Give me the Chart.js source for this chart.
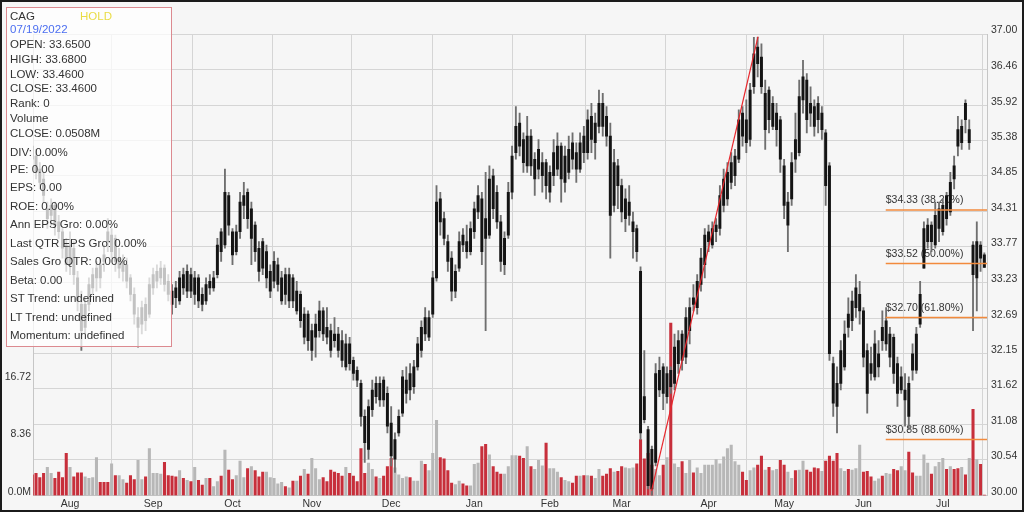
<!DOCTYPE html>
<html lang="en">
<head>
<meta charset="UTF-8">
<title>CAG</title>
<script src="https://cdn.jsdelivr.net/npm/chart.js"></script>
<style>
  html, body { margin: 0; padding: 0; background: #fff; }
  #frame { position: relative; width: 1024px; height: 512px; box-sizing: border-box; border: 2px solid #1b1b1b; background: #f6f6f6; overflow: hidden; font-family: "Liberation Sans", Arial, Helvetica, sans-serif; }
  #chart { position: absolute; left: 0; top: 0; }
  #info { position: absolute; left: 4px; top: 5px; width: 164px; height: 338px; border: 1px solid #dc8a90; background: rgba(255,255,255,0.74); font-size: 11.5px; color: #333; }
  #info div { position: absolute; left: 3px; white-space: nowrap; line-height: 14px; }
</style>
</head>
<body>
<div id="frame">
  <canvas id="chart" width="1020" height="508"></canvas>
  <div id="info">
    <div style="top:1px">CAG</div>
    <div style="top:1px;left:73px;color:#e9dc45">HOLD</div>
    <div style="top:14px;color:#4b6ef0">07/19/2022</div>
    <div style="top:29px">OPEN: 33.6500</div>
    <div style="top:44px">HIGH: 33.6800</div>
    <div style="top:59px">LOW: 33.4600</div>
    <div style="top:73px">CLOSE: 33.4600</div>
    <div style="top:88px">Rank: 0</div>
    <div style="top:103px">Volume</div>
    <div style="top:118px">CLOSE: 0.0508M</div>
    <div style="top:137px">DIV: 0.00%</div>
    <div style="top:154px">PE: 0.00</div>
    <div style="top:172px">EPS: 0.00</div>
    <div style="top:191px">ROE: 0.00%</div>
    <div style="top:209px">Ann EPS Gro: 0.00%</div>
    <div style="top:228px">Last QTR EPS Gro: 0.00%</div>
    <div style="top:246px">Sales Gro QTR: 0.00%</div>
    <div style="top:265px">Beta: 0.00</div>
    <div style="top:283px">ST Trend: undefined</div>
    <div style="top:302px">LT Trend: undefined</div>
    <div style="top:320px">Momentum: undefined</div>
  </div>
</div>

<script>
// --- daily candles [open, high, low, close], one array per month ---
const jul21 = [
  [35.30,35.50,34.95,35.10],[35.15,35.25,34.80,34.90],[34.95,35.05,34.65,34.75],[34.80,34.90,34.45,34.55],[34.20,34.45,34.05,34.35],
  [34.25,34.50,34.10,34.40],[34.40,34.45,33.95,34.10],[34.15,34.25,33.90,34.00],[34.00,34.05,33.60,33.75],[33.80,33.90,33.40,33.50]
];
const aug21 = [
  [33.50,34.00,33.35,33.80],[33.75,33.85,33.20,33.35],[33.30,33.40,32.80,32.95],[32.90,33.10,32.20,32.50],[32.55,33.00,32.45,32.90],
  [32.90,33.30,32.80,33.20],[33.15,33.45,33.05,33.35],[33.30,33.55,33.10,33.45],[33.50,33.60,33.15,33.30],[33.65,33.80,33.40,33.55],
  [34.00,34.20,33.70,33.85],[33.70,34.05,33.60,33.95],[33.90,33.95,33.40,33.55],[33.45,33.75,33.30,33.60],[33.40,33.65,33.25,33.55],
  [33.50,33.60,33.15,33.25],[33.30,33.35,32.95,33.05],[33.05,33.15,32.60,32.75],[32.55,32.85,32.25,32.70],[32.60,32.95,32.45,32.85],
  [32.90,33.00,32.50,32.65],[32.75,33.30,32.70,33.20]
];
const sep21 = [
  [33.15,33.45,33.05,33.35],[33.25,33.50,33.15,33.40],[33.30,33.55,33.20,33.45],[33.45,33.50,33.10,33.20],[33.25,33.35,32.95,33.05],
  [33.10,33.20,32.75,32.90],[33.15,33.25,32.85,33.00],[32.95,33.40,32.90,33.30],[33.35,33.45,33.05,33.15],[33.10,33.50,33.00,33.40],
  [33.35,33.45,33.00,33.10],[33.05,33.40,32.90,33.30],[33.30,33.35,32.85,32.95],[33.05,33.15,32.80,32.90],[32.95,33.30,32.90,33.20],
  [33.25,33.35,33.05,33.15],[33.15,33.40,33.10,33.30],[33.35,33.90,33.30,33.80],[34.00,34.05,33.55,33.70],[33.80,34.95,33.75,34.60],
  [34.55,34.60,33.95,34.10]
];
const oct21 = [
  [34.00,34.05,33.50,33.65],[33.70,34.10,33.65,34.00],[34.00,34.60,33.90,34.45],[34.40,34.75,34.20,34.55],[34.60,34.65,34.05,34.20],
  [33.90,34.45,33.50,34.35],[34.10,34.15,33.55,33.70],[33.75,33.85,33.25,33.40],[33.85,33.90,33.35,33.45],[33.30,33.80,33.15,33.70],
  [33.10,33.50,33.00,33.40],[33.25,33.70,33.15,33.55],[33.20,33.60,33.10,33.50],[32.95,33.40,32.90,33.30],[33.35,33.45,32.90,33.05],
  [32.95,33.45,32.85,33.35],[33.30,33.35,32.85,32.95],[32.80,33.25,32.75,33.10],[33.05,33.10,32.55,32.65],[32.40,32.85,32.30,32.75],
  [32.75,32.80,32.20,32.35]
];
const nov21 = [
  [32.20,32.60,32.05,32.50],[32.40,32.75,32.10,32.60],[32.50,32.95,32.40,32.80],[32.80,32.85,32.35,32.45],[32.55,32.85,32.30,32.40],
  [32.50,32.60,32.10,32.20],[32.45,32.70,32.25,32.35],[32.45,32.55,32.10,32.20],[32.35,32.50,31.95,32.05],[31.95,32.45,31.90,32.30],
  [32.30,32.40,31.90,32.00],[32.05,32.10,31.75,31.85],[31.90,31.95,31.65,31.75],[31.70,31.75,31.05,31.20],[31.20,31.30,30.50,30.80],
  [30.70,31.45,30.55,31.35],[31.30,31.75,31.20,31.60],[31.70,31.80,31.40,31.50],[31.45,31.80,31.35,31.70],[31.75,31.80,31.35,31.45],
  [31.55,31.65,30.95,31.05]
];
const dec21 = [
  [31.10,31.35,30.45,30.60],[30.55,30.95,30.35,30.85],[30.95,31.30,30.90,31.20],[31.25,31.90,31.20,31.80],[31.55,31.95,31.40,31.75],
  [31.85,32.00,31.45,31.60],[31.65,32.05,31.55,31.95],[31.95,32.40,31.90,32.30],[32.20,32.65,32.10,32.55],[32.70,32.85,32.35,32.45],
  [32.40,32.80,32.35,32.70],[32.75,33.40,32.70,33.30],[33.30,34.70,33.25,34.45],[34.50,34.60,33.95,34.15],[34.20,34.30,33.80,33.90],
  [33.85,33.95,33.40,33.55],[33.60,33.70,32.95,33.10],[33.10,33.50,33.00,33.40],[33.45,34.00,33.40,33.85],[33.95,34.05,33.70,33.80],
  [33.85,34.10,33.60,33.70],[33.70,34.15,33.65,34.05]
];
const jan22 = [
  [34.00,34.45,33.90,34.35],[34.30,34.70,34.20,34.55],[34.50,34.60,33.50,33.70],[34.20,34.90,32.50,33.90],[33.95,35.00,33.90,34.80],
  [34.85,34.95,34.20,34.35],[34.60,34.70,34.05,34.15],[34.15,34.25,33.40,33.55],[33.50,34.00,33.35,33.90],[33.95,34.75,33.90,34.60],
  [34.60,35.30,34.50,35.15],[35.20,35.90,35.10,35.60],[35.65,35.80,35.15,35.30],[35.40,35.50,34.90,35.05],[35.00,35.75,34.90,35.45],
  [35.45,35.55,34.85,35.00],[34.80,35.20,34.55,35.10],[34.95,35.40,34.80,35.25],[34.85,35.20,34.60,35.05],[35.05,35.10,34.50,34.70]
];
const feb22 = [
  [34.60,35.00,34.45,34.90],[34.85,35.40,34.70,35.20],[34.95,35.50,34.85,35.30],[35.30,35.35,34.45,34.80],[34.75,35.30,34.60,35.15],
  [34.90,35.45,34.80,35.25],[35.35,35.50,34.95,35.10],[35.20,35.35,34.75,34.95],[34.95,35.50,34.90,35.35],[35.45,35.60,35.05,35.20],
  [35.20,35.85,35.10,35.70],[35.75,35.95,35.20,35.40],[35.35,35.80,35.10,35.65],[35.60,36.15,35.50,35.95],[35.95,36.10,35.45,35.60],
  [35.75,35.90,35.30,35.45],[35.45,35.65,33.60,34.25],[34.40,35.25,34.30,35.05],[35.00,35.10,34.35,34.70]
];
const mar22 = [
  [34.70,34.80,34.15,34.30],[34.20,34.65,34.00,34.50],[34.25,34.70,34.10,34.45],[34.00,34.30,33.60,34.15],[34.05,34.10,33.55,33.70],
  [33.40,33.47,30.85,30.95],[31.50,32.20,31.10,31.15],[31.00,31.05,30.10,30.15],[30.70,30.75,30.00,30.10],[30.50,32.00,30.45,31.85],
  [31.60,32.10,31.50,31.90],[31.95,32.00,31.30,31.55],[31.50,31.95,31.40,31.85],[31.90,31.95,31.55,31.65],[31.70,32.45,31.60,32.25],
  [32.00,32.50,31.85,32.35],[32.45,32.50,31.90,32.05],[32.10,32.85,32.00,32.70],[32.50,33.00,32.30,32.85],[33.00,33.20,32.80,32.90],
  [32.85,33.35,32.75,33.25],[33.20,33.75,33.10,33.60],[33.50,34.05,33.30,33.95]
];
const apr22 = [
  [33.85,34.10,33.70,34.00],[33.80,34.15,33.75,34.05],[34.00,34.20,33.85,34.10],[34.05,34.70,33.95,34.55],[34.40,34.95,34.30,34.80],
  [34.50,35.05,34.40,34.90],[34.75,35.20,34.65,35.05],[34.85,35.25,34.70,35.15],[35.10,35.85,35.05,35.70],[35.80,35.90,35.30,35.45],
  [35.70,36.00,35.20,35.35],[35.40,36.25,35.30,36.15],[36.20,36.95,36.10,36.70],[36.80,36.95,36.35,36.55],[36.65,36.85,36.10,36.20],
  [35.55,36.30,35.25,36.10],[36.15,36.20,35.50,35.70],[35.60,36.05,35.55,35.95],[35.55,35.95,35.30,35.80],[35.70,35.75,34.90,35.10]
];
const may22 = [
  [35.00,35.10,34.20,34.40],[34.10,34.60,33.70,34.45],[34.50,35.20,34.40,35.05],[35.40,35.80,34.90,35.10],[35.20,36.30,35.15,36.05],
  [36.00,36.60,35.80,36.35],[36.30,36.40,35.50,35.70],[35.95,36.20,35.60,35.80],[35.90,36.00,35.45,35.60],[35.95,36.05,35.50,35.70],
  [35.55,35.90,35.40,35.80],[35.50,35.55,34.40,34.70],[35.00,35.05,32.05,32.15],[32.00,32.10,31.20,31.40],[31.70,31.95,30.95,31.35],
  [31.70,32.35,31.60,32.20],[31.95,32.65,31.90,32.45],[32.75,33.00,32.40,32.55],[32.65,33.10,32.50,32.95],[32.85,33.35,32.70,33.15],
  [32.80,33.25,32.60,33.05]
];
const jun22 = [
  [32.80,32.85,31.95,32.10],[32.20,32.30,31.25,31.55],[32.00,32.25,31.75,31.85],[31.80,32.50,31.75,32.30],[31.95,32.35,31.80,32.15],
  [32.55,32.80,32.20,32.35],[32.30,32.85,32.20,32.65],[32.10,32.55,31.95,32.45],[32.40,32.45,31.70,31.85],[32.00,32.10,31.35,31.55],
  [31.60,31.95,31.55,31.80],[31.45,31.85,31.05,31.60],[31.70,31.80,31.00,31.20],[32.15,32.30,31.75,31.90],[31.90,32.55,31.85,32.45],
  [32.60,33.25,32.55,33.05],[33.45,34.15,33.45,34.05],[33.85,34.20,33.75,34.10],[34.10,34.15,33.70,33.85],[33.80,34.45,33.75,34.25],
  [34.05,34.45,33.85,34.35]
];
const jul22 = [
  [34.00,34.50,33.95,34.40],[34.55,34.60,34.10,34.20],[34.30,34.90,34.25,34.75],[35.00,35.15,34.65,34.80],[35.55,35.75,35.15,35.30],
  [35.35,35.70,35.25,35.60],[35.95,36.00,35.50,35.70],[35.35,35.70,35.25,35.55],[33.80,33.85,32.50,33.35],[33.30,34.15,32.80,33.85],
  [33.80,33.85,33.40,33.60],[33.65,33.68,33.46,33.46]
];

// --- daily volume in millions, same months ---
const volJul21 = [3.0,3.2,2.6,3.2,4.1,3.2,2.5,3.4,2.6,6.1];
const volAug21 = [4.1,2.7,3.3,3.3,2.7,2.5,2.6,5.5,1.9,1.9,1.9,4.6,2.9,2.9,2.3,1.8,2.9,2.3,5.1,2.3,2.7,6.8];
const volSep21 = [3.2,3.2,3.1,4.8,2.9,2.8,2.7,3.6,2.5,2.2,2.0,4.1,2.2,1.5,2.5,2.5,1.3,2.0,2.8,6.6,3.7];
const volOct21 = [2.3,2.9,5.0,2.6,3.9,4.2,3.6,2.7,3.4,3.4,2.6,2.5,1.7,1.9,1.3,1.1,2.1,2.1,2.8,3.8,3.1];
const volNov21 = [5.4,3.9,2.3,2.6,2.0,3.7,3.4,3.2,2.8,4.1,3.2,2.8,2.0,6.8,3.2,4.7,3.8,2.7,2.5,2.8,4.2];
const volDec21 = [5.4,4.0,3.0,2.5,2.7,2.6,2.1,2.1,5.0,4.5,3.6,6.1,10.9,5.5,5.3,3.6,1.8,1.6,2.1,1.7,1.4,1.4];
const volJan22 = [4.5,4.7,7.1,7.4,5.9,4.2,3.4,3.1,3.1,4.2,5.8,5.8,5.7,5.4,7.1,4.2,3.8,5.1,4.3,7.6];
const volFeb22 = [3.9,3.9,3.4,2.6,2.2,2.0,1.8,2.8,2.8,2.9,2.9,2.8,2.5,3.8,2.8,3.1,3.9,3.4,3.5];
const volMar22 = [4.2,4.0,3.9,4.0,4.6,8.1,5.3,6.1,4.4,3.8,2.9,4.4,5.5,25.0,4.6,4.1,4.9,3.2,5.1,3.3,4.0,3.2,4.4];
const volApr22 = [4.4,4.4,5.2,4.6,5.6,6.8,7.3,4.9,4.4,3.4,2.2,3.6,4.0,4.4,5.7,3.7,4.1,3.6,3.8,5.1];
const volMay22 = [4.4,3.4,2.5,3.6,3.7,5.0,3.7,3.4,4.0,3.9,3.5,5.0,5.7,5.0,6.1,3.9,3.5,3.8,3.7,3.9,7.3];
const volJun22 = [3.4,3.5,2.7,2.1,2.4,2.8,3.2,3.1,3.8,3.6,4.2,3.6,6.3,3.3,2.8,2.8,5.9,4.7,3.1,4.2,4.8];
const volJul22 = [5.4,3.8,4.2,3.8,3.9,4.1,3.0,5.4,12.5,5.2,4.5,0.05];

// --- axes ---
const monthLabels = ['Aug','Sep','Oct','Nov','Dec','Jan','Feb','Mar','Apr','May','Jun','Jul'];
const monthStart = [10, 32, 53, 74, 95, 117, 137, 156, 179, 199, 220, 241];
const priceTicks = [30.00, 30.54, 31.08, 31.62, 32.15, 32.69, 33.23, 33.77, 34.31, 34.85, 35.38, 35.92, 36.46, 37.00];
const volTicks = [0, 8.36, 16.72];
const volLabels = ['0.0M', '8.36', '16.72'];
const volMax = 66.88;

// --- fibonacci levels + trend line ---
const fibLevels = [34.33, 33.52, 32.70, 30.85];
const fibPct = ['38.20%', '50.00%', '61.80%', '88.60%'];
const fibSpan = [225.9, 252.7];
const trendX = [163.9, 192.1];
const trendY = [30.07, 36.96];

const ohlc = [].concat(jul21, aug21, sep21, oct21, nov21, dec21, jan22, feb22, mar22, apr22, may22, jun22, jul22);
const volume = [].concat(volJul21, volAug21, volSep21, volOct21, volNov21, volDec21, volJan22, volFeb22, volMar22, volApr22, volMay22, volJun22, volJul22);

const RED = '#c72f3b';
const GREY = '#b7b7b7';
const GRID = '#d5d5d5';
const FONT = '"Liberation Sans", Arial, Helvetica, sans-serif';

Chart.defaults.font.family = FONT;
Chart.defaults.font.size = 10.5;
Chart.defaults.color = '#333';

// fib price tags, drawn under the candles
const fibText = {
  id: 'fibText',
  beforeDatasetsDraw(chart) {
    const { ctx, scales } = chart;
    ctx.save();
    ctx.font = '10.5px ' + FONT;
    ctx.fillStyle = '#333';
    ctx.textBaseline = 'middle';
    fibLevels.forEach((lvl, k) => {
      const px = scales.x.getPixelForValue(fibSpan[0]);
      const py = scales.price.getPixelForValue(lvl) - 9.5;
      ctx.fillText('$' + lvl.toFixed(2) + ' (' + fibPct[k] + ')', px, py);
    });
    ctx.restore();
  }
};

const datasets = [
  {
    type: 'bar', yAxisID: 'vol', order: 5, grouped: false,
    data: volume.map((v, i) => ({ x: i, y: v })),
    backgroundColor: ohlc.map(r => r[3] < r[0] ? RED : GREY),
    barThickness: 2.4
  },
  {
    type: 'bar', yAxisID: 'price', order: 4, grouped: false,
    data: ohlc.map((r, i) => ({ x: i, y: [r[2], r[1]] })),
    backgroundColor: '#6f6f6f',
    barThickness: 1.2
  },
  {
    type: 'bar', yAxisID: 'price', order: 3, grouped: false,
    data: ohlc.map((r, i) => ({ x: i, y: [r[0], r[3]] })),
    backgroundColor: '#141414',
    barThickness: 2.3,
    minBarLength: 1
  }
];
fibLevels.forEach(lvl => {
  datasets.push({
    type: 'line', yAxisID: 'price', order: 2,
    data: fibSpan.map(x => ({ x: x, y: lvl })),
    borderColor: '#f28a3c', borderWidth: 1.5, pointRadius: 0
  });
});
datasets.push({
  type: 'line', yAxisID: 'price', order: 1,
  data: trendX.map((x, k) => ({ x: x, y: trendY[k] })),
  borderColor: '#e8262c', borderWidth: 1.2, pointRadius: 0
});

new Chart(document.getElementById('chart'), {
  type: 'bar',
  data: { datasets: datasets },
  plugins: [fibText],
  options: {
    responsive: false,
    animation: false,
    devicePixelRatio: 1,
    layout: { padding: { top: 32, left: 0, right: 0, bottom: 0 } },
    plugins: { legend: { display: false }, tooltip: { enabled: false } },
    scales: {
      x: {
        type: 'linear', min: 0.2, max: 252.7, offset: false,
        afterBuildTicks: s => { s.ticks = monthStart.map(v => ({ value: v })); },
        afterFit: s => { s.height = 14.5; },
        ticks: { autoSkip: false, maxRotation: 0, padding: 2, callback: (v, i) => monthLabels[i] },
        grid: { color: GRID, drawTicks: false },
        border: { color: '#c6c6c6' }
      },
      price: {
        type: 'linear', position: 'right', min: 30, max: 37,
        afterBuildTicks: s => { s.ticks = priceTicks.map(v => ({ value: v })); },
        afterFit: s => { s.width = 35; },
        ticks: { padding: 4, labelOffset: -3.5, callback: v => v.toFixed(2) },
        grid: { color: GRID, drawTicks: false },
        border: { color: '#c6c6c6' }
      },
      vol: {
        type: 'linear', position: 'left', min: 0, max: volMax,
        afterBuildTicks: s => { s.ticks = volTicks.map(v => ({ value: v })); },
        afterFit: s => { s.width = 31; },
        ticks: { padding: 2, labelOffset: -3.5, callback: (v, i) => volLabels[i] },
        grid: { display: false, drawTicks: false },
        border: { color: '#c6c6c6' }
      }
    }
  }
});
</script>
</body>
</html>
